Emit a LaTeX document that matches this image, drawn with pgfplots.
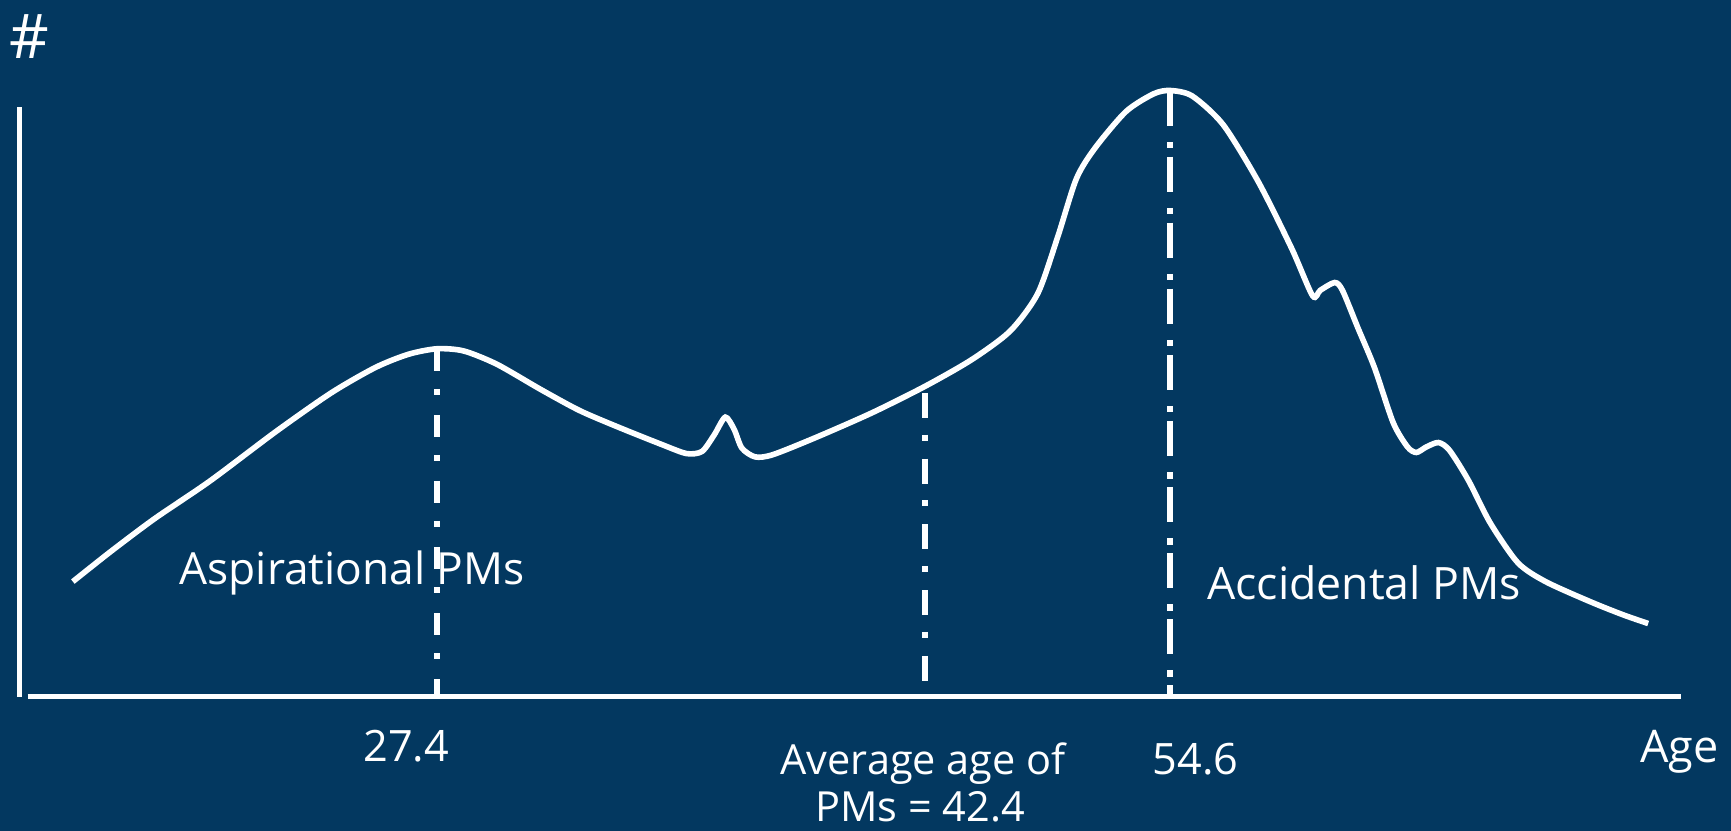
\documentclass[border=0pt]{standalone}
\usepackage{pgfplots}
\pgfplotsset{compat=1.18}
\usepackage{fontspec}
\setmainfont{Open Sans}

\definecolor{bg}{RGB}{3,56,96}

\tikzset{
  lbl/.style={text=white, inner sep=0pt, font=\fontsize{12.3}{13}\selectfont},
}

\begin{document}
\begin{tikzpicture}
\begin{axis}[
  scale only axis,
  width=17.31cm, height=8.31cm,
  xmin=0, xmax=1568, ymin=0, ymax=753,
  y dir=reverse,
  axis lines=none,
  clip=false,
  axis background/.style={fill=bg},
]
% axes
\addplot[white, line width=1.5pt] coordinates {(17.5,97) (17.5,632)};
\addplot[white, line width=1.6pt] coordinates {(25,631) (1523,631)};

% age distribution curve
\addplot[white, line width=1.6pt, smooth, tension=0.45] coordinates {
 (66,527) (100,500) (140,470) (190,436) (250,391) (300,356) (340,333)
 (370,321) (396,316) (420,318) (450,330) (490,353) (525,372) (560,387)
 (600,403) (622,411) (636,409) (647,394) (657,378) (665,389) (672,406)
 (684,414) (700,412) (740,396) (790,374) (838,350) (880,326) (915,300)
 (940,266) (958,215) (975,162) (992,134) (1020,101) (1045,85) (1060,82)
 (1080,87) (1108,113) (1140,165) (1170,225) (1189,268) (1196,263)
 (1209,256) (1216,263) (1230,297) (1245,333) (1262,383) (1275,405)
 (1283,410) (1292,405) (1303,401) (1313,408) (1330,435) (1350,474)
 (1375,510) (1400,527) (1440,545) (1470,557) (1493,565)
};

% dash-dot markers
\addplot[white, line width=1.7pt, dash pattern=on 6.3pt off 5.1pt on 1.7pt off 5.7pt]
  coordinates {(396,316) (396,631)};
\addplot[white, line width=1.7pt, dash pattern=on 7.1pt off 4.8pt on 1.7pt off 5.1pt]
  coordinates {(838,356) (838,618)};
\addplot[white, line width=1.7pt, dash pattern=on 10pt off 4.6pt on 1.8pt off 2.4pt]
  coordinates {(1060,82) (1060,631)};

% labels
\node[lbl, font=\fontsize{17.5}{18}\selectfont] at (axis cs:27,33) {\#};
\node[lbl, anchor=base west, font=\fontsize{12.6}{13}\selectfont] at (axis cs:162,530) {Aspirational PMs};
\node[lbl, anchor=base west, font=\fontsize{12.7}{13}\selectfont] at (axis cs:1093,543) {Accidental PMs};
\node[lbl, anchor=base] at (axis cs:368,690) {27.4};
\node[lbl, anchor=base] at (axis cs:1083,702) {54.6};
\node[lbl, anchor=base west, font=\fontsize{11.8}{13}\selectfont] at (axis cs:706.5,702) {Average age of};
\node[lbl, anchor=base west, font=\fontsize{11.8}{13}\selectfont] at (axis cs:738,744) {PMs = 42.4};
\node[lbl, anchor=base west, font=\fontsize{12.8}{14}\selectfont] at (axis cs:1485,691) {Age};
\end{axis}
\end{tikzpicture}
\end{document}
